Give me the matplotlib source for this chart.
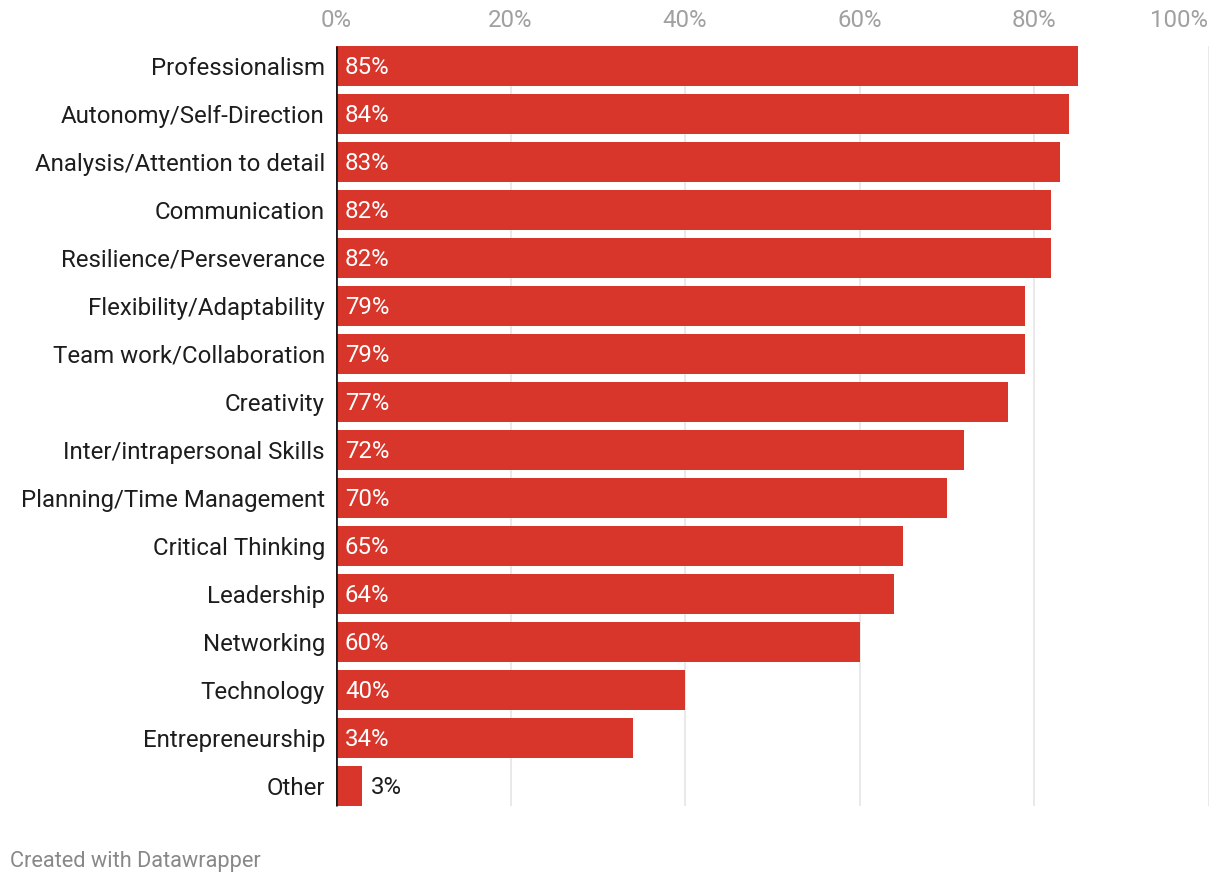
import matplotlib
matplotlib.use("Agg")
from matplotlib import pyplot as plt
import matplotlib.transforms as transforms

plt.rcParams['font.family'] = ['Roboto', 'DejaVu Sans']

skills = ["Professionalism", "Autonomy/Self-Direction", "Analysis/Attention to detail",
          "Communication", "Resilience/Perseverance", "Flexibility/Adaptability",
          "Team work/Collaboration", "Creativity", "Inter/intrapersonal Skills",
          "Planning/Time Management", "Critical Thinking", "Leadership",
          "Networking", "Technology", "Entrepreneurship", "Other"]
values = [85, 84, 83, 82, 82, 79, 79, 77, 72, 70, 65, 64, 60, 40, 34, 3]
xticks = [0, 20, 40, 60, 80, 100]
xtick_labels = ["0%", "20%", "40%", "60%", "80%", "100%"]

W, H = 1220, 882
fs = 17.3
fig = plt.figure(figsize=(W / 100, H / 100), dpi=100)
# axes: x 336..1208.5 px, y 42..810 px
ax = fig.add_axes([336 / W, 1 - 810 / H, (1208.5 - 336) / W, (810 - 42) / H])

bar_h = 40 / 48
pos = list(range(len(skills)))
ax.barh(pos, values, height=bar_h, color="#d8362b", zorder=2)

ax.set_xlim(0, 100)
ax.set_ylim(len(skills) - 0.5, -0.5)

# gridlines
ax.vlines(xticks[1:], -bar_h / 2, len(skills) - 1 + bar_h / 2, color="#e5e5e5", lw=1.2, zorder=1)
ax.vlines(0, -bar_h / 2, len(skills) - 1 + bar_h / 2, color="#1a1a1a", lw=2, zorder=3)

for s in ax.spines.values():
    s.set_visible(False)

ax.set_yticks(pos)
ax.set_yticklabels(skills, fontsize=fs, color="#1d1d1d")
ax.tick_params(axis='y', length=0, pad=8)

ax.xaxis.tick_top()
ax.set_xticks(xticks)
ax.set_xticklabels(xtick_labels, fontsize=fs, color="#a0a0a0")
ax.tick_params(axis='x', length=0, pad=7)
ax.get_xticklabels()[-1].set_horizontalalignment('right')

offset = transforms.offset_copy(ax.transData, fig=fig, x=9, y=-1.5, units='dots')
for i, v in enumerate(values):
    if v >= 10:
        ax.text(0, i, f"{v}%", transform=offset, color="white", fontsize=fs,
                va='center', ha='left', zorder=4)
    else:
        ax.text(v, i, f"{v}%", transform=offset, color="#1d1d1d", fontsize=fs,
                va='center', ha='left', zorder=4)

fig.text(10 / W, 1 - 861 / H, "Created with Datawrapper", fontsize=15.7,
         color="#888888", va='center', ha='left')

fig.savefig("out.png", dpi=100, facecolor="white")
